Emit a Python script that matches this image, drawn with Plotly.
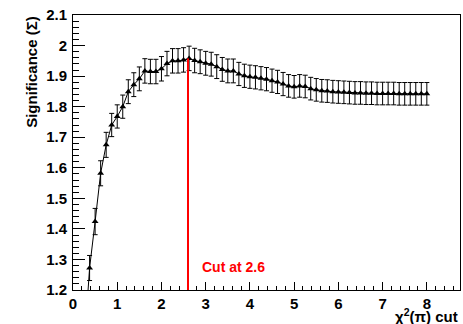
import plotly.graph_objects as go

# ---- data ----
chi2_cut = [0.25, 0.375, 0.5, 0.625, 0.75, 0.875, 1.0, 1.125, 1.25, 1.375, 1.5, 1.625,
            1.75, 1.875, 2.0, 2.125, 2.25, 2.375, 2.5, 2.625, 2.75, 2.875, 3.0, 3.125,
            3.25, 3.375, 3.5, 3.625, 3.75, 3.875, 4.0, 4.125, 4.25, 4.375, 4.5, 4.625,
            4.75, 4.875, 5.0, 5.125, 5.25, 5.375, 5.5, 5.625, 5.75, 5.875, 6.0, 6.125,
            6.25, 6.375, 6.5, 6.625, 6.75, 6.875, 7.0, 7.125, 7.25, 7.375, 7.5, 7.625,
            7.75, 7.875, 8.0]
significance = [1.01, 1.272, 1.424, 1.582, 1.675, 1.740, 1.768, 1.800, 1.849, 1.872, 1.891, 1.917,
                1.915, 1.915, 1.924, 1.941, 1.950, 1.950, 1.953, 1.958, 1.951, 1.947, 1.942, 1.939,
                1.931, 1.922, 1.917, 1.917, 1.907, 1.901, 1.898, 1.896, 1.893, 1.890, 1.885, 1.881,
                1.874, 1.868, 1.865, 1.868, 1.866, 1.859, 1.855, 1.852, 1.851, 1.849, 1.848, 1.847,
                1.846, 1.845, 1.845, 1.844, 1.844, 1.843, 1.843, 1.843, 1.843, 1.842, 1.842, 1.842,
                1.842, 1.842, 1.842]
sig_err = [0.042, 0.041, 0.043, 0.041, 0.041, 0.038, 0.038, 0.038, 0.039, 0.039, 0.039, 0.040,
           0.040, 0.040, 0.040, 0.040, 0.040, 0.040, 0.040, 0.040, 0.040, 0.039, 0.039, 0.039,
           0.039, 0.039, 0.039, 0.039, 0.038, 0.038, 0.038, 0.038, 0.038, 0.038, 0.038, 0.038,
           0.038, 0.037, 0.037, 0.037, 0.037, 0.037, 0.037, 0.037, 0.037, 0.037, 0.037, 0.037,
           0.037, 0.037, 0.037, 0.037, 0.037, 0.037, 0.037, 0.037, 0.037, 0.037, 0.037, 0.037,
           0.037, 0.037, 0.037]
cut_value = 2.6
cut_peak = 1.958
cut_label = "Cut at 2.6"
y_ticks = [1.2, 1.3, 1.4, 1.5, 1.6, 1.7, 1.8, 1.9, 2.0, 2.1]
y_ticklabels = ["1.2", "1.3", "1.4", "1.5", "1.6", "1.7", "1.8", "1.9", "2", "2.1"]
x_ticks = [0, 1, 2, 3, 4, 5, 6, 7, 8]
x_ticklabels = ["0", "1", "2", "3", "4", "5", "6", "7", "8"]

FONT = "Liberation Sans, Arial, Helvetica, sans-serif"

fig = go.Figure()
fig.add_trace(go.Scatter(
    x=chi2_cut, y=significance, mode="lines+markers",
    line=dict(color="black", width=1),
    marker=dict(symbol="triangle-up", size=6, color="black"),
    error_y=dict(type="data", array=sig_err, visible=True, color="black",
                 thickness=1, width=2.5),
    showlegend=False,
))

fig.add_shape(type="line", xref="x", yref="y", x0=cut_value, x1=cut_value,
              y0=1.2, y1=cut_peak, line=dict(color="#ff0000", width=2))
fig.add_annotation(x=2.88, y=1.274, xref="x", yref="y", text=cut_label,
                   showarrow=False, xanchor="left", yanchor="middle",
                   font=dict(family=FONT, size=14, color="#ff0000", weight="bold"))

fig.add_annotation(xref="paper", yref="paper", x=1.0, y=-0.134,
                   text="χ<sup>2</sup>(π) cut", showarrow=False,
                   xanchor="right", yanchor="bottom",
                   font=dict(family=FONT, size=15, color="black", weight="bold"))
fig.add_annotation(xref="paper", yref="paper", x=-0.108, y=1.005,
                   text="Significance (Σ)", showarrow=False, textangle=-90,
                   xanchor="center", yanchor="top",
                   font=dict(family=FONT, size=15, color="black", weight="bold"))

fig.update_xaxes(range=[0, 8.75], tickvals=x_ticks, ticktext=x_ticklabels,
                 ticks="inside", ticklen=8, tickwidth=1, tickcolor="black",
                 showline=True, linecolor="black", linewidth=1, mirror=True,
                 showgrid=False, zeroline=False,
                 tickfont=dict(family=FONT, size=15, color="black", weight="bold"),
                 minor=dict(ticks="inside", ticklen=4, dtick=0.2, tick0=0,
                            tickcolor="black", showgrid=False))
fig.update_yaxes(range=[1.2, 2.1], tickvals=y_ticks, ticktext=y_ticklabels,
                 ticks="inside", ticklen=12, tickwidth=1, tickcolor="black",
                 showline=True, linecolor="black", linewidth=1, mirror=True,
                 showgrid=False, zeroline=False, ticklabelstandoff=2,
                 tickfont=dict(family=FONT, size=15, color="black", weight="bold"),
                 minor=dict(ticks="inside", ticklen=6, dtick=0.02, tick0=1.2,
                            tickcolor="black", showgrid=False))

fig.update_layout(width=463, height=324, margin=dict(l=73, r=3, t=15, b=34),
                  plot_bgcolor="white", paper_bgcolor="white")

fig.write_html("out.html")
